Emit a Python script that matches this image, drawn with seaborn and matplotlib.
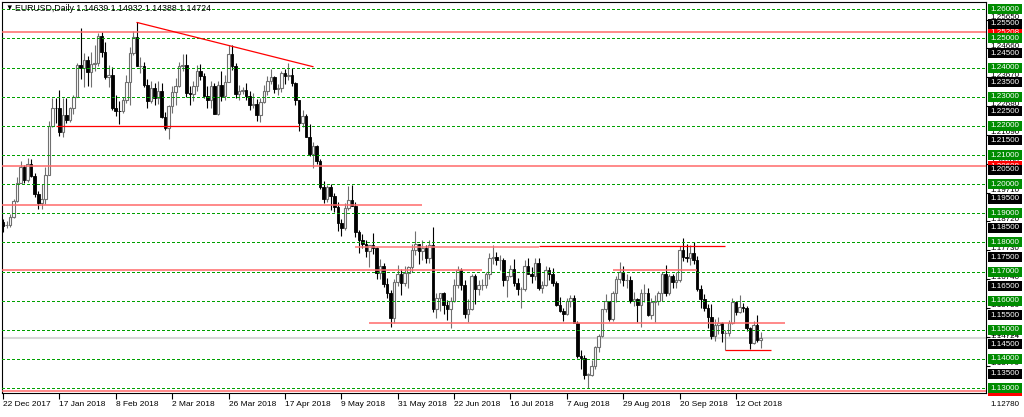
import numpy as np
import pandas as pd
import matplotlib
matplotlib.use("Agg")
import matplotlib.pyplot as plt
import matplotlib.transforms as mtransforms
from matplotlib.patches import Rectangle
import seaborn as sns

# EURUSD daily bars, 22 Dec 2017 .. 23 Oct 2018 (no bar on 25 Dec and 1 Jan)
first_day = "2017-12-22"
last_day = "2018-10-23"
no_bar_days = ["2017-12-25", "2018-01-01"]

opens = [
    1.1870, 1.1860, 1.1860, 1.1888, 1.1942,
    1.2005, 1.2058, 1.2015, 1.2068, 1.2029, 1.1965, 1.1937, 1.1949, 1.2032, 1.2198, 1.2263,
    1.2262, 1.2180, 1.2237, 1.2221, 1.2260, 1.2300, 1.2408, 1.2397, 1.2425, 1.2385, 1.2412,
    1.2415, 1.2507, 1.2455, 1.2367, 1.2374, 1.2263, 1.2252, 1.2250, 1.2290, 1.2350, 1.2450,
    1.2505, 1.2406, 1.2407, 1.2339, 1.2286, 1.2330, 1.2295, 1.2318, 1.2230,
    1.2193, 1.2267, 1.2316, 1.2336, 1.2404, 1.2409, 1.2312, 1.2309, 1.2336, 1.2390, 1.2370,
    1.2304, 1.2288, 1.2336, 1.2241, 1.2340, 1.2301, 1.2352, 1.2446, 1.2405, 1.2311, 1.2320,
    1.2323, 1.2301, 1.2271, 1.2275, 1.2239, 1.2282, 1.2320, 1.2355, 1.2369, 1.2326, 1.2330,
    1.2380, 1.2370, 1.2375, 1.2346, 1.2288, 1.2210, 1.2235, 1.2163, 1.2105, 1.2130,
    1.2080, 1.1990, 1.1950, 1.1990, 1.1960, 1.1922, 1.1866, 1.1850, 1.1917, 1.1944, 1.1926,
    1.1835, 1.1810, 1.1795, 1.1770, 1.1790, 1.1780, 1.1696, 1.1720, 1.1656, 1.1625, 1.1540, 1.1665,
    1.1690, 1.1660, 1.1695, 1.1715, 1.1775, 1.1795, 1.1770, 1.1780, 1.1745, 1.1790, 1.1570,
    1.1610, 1.1625, 1.1585, 1.1570, 1.1600, 1.1655, 1.1705, 1.1655, 1.1555, 1.1570,
    1.1685, 1.1640, 1.1655, 1.1655, 1.1690, 1.1745, 1.1750, 1.1740, 1.1740, 1.1670, 1.1685,
    1.1710, 1.1660, 1.1640, 1.1640, 1.1720, 1.1690, 1.1685, 1.1730, 1.1645, 1.1655, 1.1705,
    1.1690, 1.1660, 1.1585, 1.1565, 1.1555, 1.1600, 1.1610, 1.1525, 1.1410, 1.1405, 1.1345,
    1.1345, 1.1375, 1.1440, 1.1480, 1.1570, 1.1598, 1.1538, 1.1625, 1.1675, 1.1700, 1.1670, 1.1670,
    1.1600, 1.1605, 1.1585, 1.1625, 1.1625, 1.1550, 1.1595, 1.1600, 1.1625, 1.1690,
    1.1625, 1.1685, 1.1665, 1.1670, 1.1775, 1.1750, 1.1745, 1.1765, 1.1740, 1.1640,
    1.1605, 1.1575, 1.1545, 1.1478, 1.1515, 1.1524, 1.1490, 1.1490, 1.1525, 1.1595,
    1.1560, 1.1580, 1.1575, 1.1505, 1.1455, 1.1515, 1.14639,
]
highs = [
    1.1879, 1.1875, 1.1897, 1.1950, 1.2023,
    1.2081, 1.2065, 1.2089, 1.2088, 1.2038, 1.1978, 1.2000, 1.2058, 1.2218, 1.2297, 1.2296,
    1.2323, 1.2295, 1.2297, 1.2266, 1.2307, 1.2415, 1.2537, 1.2450, 1.2440, 1.2455, 1.2478,
    1.2519, 1.2523, 1.2488, 1.2408, 1.2402, 1.2307, 1.2286, 1.2300, 1.2373, 1.2472, 1.2524,
    1.2555, 1.2437, 1.2420, 1.2361, 1.2353, 1.2347, 1.2355, 1.2347, 1.2246,
    1.2273, 1.2336, 1.2365, 1.2419, 1.2445, 1.2447, 1.2336, 1.2353, 1.2410, 1.2413, 1.2380,
    1.2336, 1.2355, 1.2346, 1.2355, 1.2389, 1.2374, 1.2476, 1.2476, 1.2415, 1.2339, 1.2335,
    1.2346, 1.2319, 1.2314, 1.2293, 1.2296, 1.2339, 1.2370, 1.2396, 1.2372, 1.2345, 1.2390,
    1.2396, 1.2415, 1.2398, 1.2352, 1.2290, 1.2254, 1.2242, 1.2208, 1.2145, 1.2134,
    1.2088, 1.2012, 1.1996, 1.2000, 1.1968, 1.1938, 1.1882, 1.1935, 1.1995, 1.1997, 1.1938,
    1.1843, 1.1830, 1.1810, 1.1792, 1.1834, 1.1784, 1.1744, 1.1729, 1.1679, 1.1638, 1.1675, 1.1724,
    1.1708, 1.1718, 1.1719, 1.1796, 1.1840, 1.1796, 1.1810, 1.1791, 1.1810, 1.1852, 1.1626,
    1.1626, 1.1631, 1.1604, 1.1612, 1.1675, 1.1720, 1.1712, 1.1671, 1.1605, 1.1692,
    1.1690, 1.1672, 1.1674, 1.1699, 1.1765, 1.1791, 1.1768, 1.1758, 1.1748, 1.1686, 1.1723,
    1.1743, 1.1677, 1.1647, 1.1740, 1.1747, 1.1717, 1.1745, 1.1748, 1.1667, 1.1720, 1.1717,
    1.1712, 1.1668, 1.1612, 1.1575, 1.1610, 1.1620, 1.1620, 1.1530, 1.1432, 1.1413, 1.1352,
    1.1395, 1.1445, 1.1485, 1.1573, 1.1623, 1.1600, 1.1635, 1.1686, 1.1733, 1.1718, 1.1690, 1.1685,
    1.1630, 1.1610, 1.1640, 1.1659, 1.1645, 1.1608, 1.1619, 1.1633, 1.1700, 1.1721,
    1.1692, 1.1693, 1.1700, 1.1788, 1.1815, 1.1795, 1.1791, 1.1800, 1.1752, 1.1655,
    1.1622, 1.1590, 1.1590, 1.1538, 1.1545, 1.1527, 1.1500, 1.1535, 1.1610, 1.1600,
    1.1621, 1.1593, 1.1582, 1.1510, 1.1530, 1.1550, 1.14932,
]
lows = [
    1.1836, 1.1848, 1.1853, 1.1883, 1.1938,
    1.2004, 1.2004, 1.2006, 1.2023, 1.1955, 1.1916, 1.1915, 1.1933, 1.2030, 1.2197, 1.2210,
    1.2165, 1.2163, 1.2210, 1.2215, 1.2242, 1.2298, 1.2360, 1.2335, 1.2336, 1.2335, 1.2390,
    1.2405, 1.2435, 1.2360, 1.2335, 1.2253, 1.2235, 1.2206, 1.2244, 1.2277, 1.2273, 1.2443,
    1.2405, 1.2380, 1.2334, 1.2260, 1.2277, 1.2271, 1.2276, 1.2226, 1.2186,
    1.2155, 1.2244, 1.2272, 1.2333, 1.2388, 1.2300, 1.2273, 1.2285, 1.2320, 1.2356, 1.2296,
    1.2260, 1.2260, 1.2240, 1.2239, 1.2284, 1.2290, 1.2350, 1.2393, 1.2297, 1.2290, 1.2310,
    1.2290, 1.2254, 1.2261, 1.2216, 1.2214, 1.2280, 1.2306, 1.2345, 1.2312, 1.2305, 1.2317,
    1.2345, 1.2356, 1.2337, 1.2273, 1.2184, 1.2196, 1.2162, 1.2098, 1.2055, 1.2069,
    1.1983, 1.1937, 1.1938, 1.1910, 1.1905, 1.1838, 1.1822, 1.1844, 1.1910, 1.1925, 1.1820,
    1.1763, 1.1780, 1.1750, 1.1717, 1.1762, 1.1675, 1.1676, 1.1646, 1.1608, 1.1510, 1.1525, 1.1650,
    1.1620, 1.1649, 1.1643, 1.1699, 1.1757, 1.1727, 1.1740, 1.1730, 1.1728, 1.1562, 1.1542,
    1.1565, 1.1556, 1.1533, 1.1508, 1.1595, 1.1645, 1.1636, 1.1541, 1.1527, 1.1568,
    1.1590, 1.1620, 1.1637, 1.1644, 1.1674, 1.1727, 1.1721, 1.1704, 1.1652, 1.1614, 1.1680,
    1.1649, 1.1620, 1.1575, 1.1635, 1.1690, 1.1660, 1.1671, 1.1638, 1.1626, 1.1650, 1.1670,
    1.1650, 1.1583, 1.1560, 1.1529, 1.1552, 1.1580, 1.1525, 1.1405, 1.1365, 1.1330, 1.1301,
    1.1340, 1.1366, 1.1425, 1.1477, 1.1560, 1.1530, 1.1530, 1.1596, 1.1661, 1.1650, 1.1645, 1.1591,
    1.1583, 1.1528, 1.1510, 1.1597, 1.1548, 1.1538, 1.1527, 1.1586, 1.1600, 1.1617,
    1.1620, 1.1644, 1.1644, 1.1664, 1.1735, 1.1733, 1.1722, 1.1725, 1.1635, 1.1575,
    1.1565, 1.1505, 1.1470, 1.1463, 1.1486, 1.1460, 1.1432, 1.1480, 1.1520, 1.1550,
    1.1557, 1.1560, 1.1495, 1.1433, 1.1450, 1.1460, 1.14388,
]
closes = [
    1.1858, 1.1860, 1.1888, 1.1942, 1.2005,
    1.2058, 1.2015, 1.2068, 1.2029, 1.1965, 1.1937, 1.1949, 1.2032, 1.2198, 1.2263, 1.2262,
    1.2180, 1.2237, 1.2221, 1.2260, 1.2300, 1.2408, 1.2397, 1.2425, 1.2385, 1.2412, 1.2415,
    1.2507, 1.2455, 1.2367, 1.2374, 1.2263, 1.2252, 1.2250, 1.2290, 1.2350, 1.2450, 1.2505,
    1.2406, 1.2407, 1.2339, 1.2286, 1.2330, 1.2295, 1.2318, 1.2230, 1.2193,
    1.2267, 1.2316, 1.2336, 1.2404, 1.2409, 1.2312, 1.2309, 1.2336, 1.2390, 1.2370, 1.2304,
    1.2288, 1.2336, 1.2241, 1.2340, 1.2301, 1.2352, 1.2446, 1.2405, 1.2311, 1.2320, 1.2323,
    1.2301, 1.2271, 1.2275, 1.2239, 1.2282, 1.2320, 1.2355, 1.2369, 1.2326, 1.2330, 1.2380,
    1.2370, 1.2375, 1.2346, 1.2288, 1.2210, 1.2235, 1.2163, 1.2105, 1.2130, 1.2080,
    1.1990, 1.1950, 1.1990, 1.1960, 1.1922, 1.1866, 1.1850, 1.1917, 1.1944, 1.1926, 1.1835,
    1.1810, 1.1795, 1.1770, 1.1790, 1.1780, 1.1696, 1.1720, 1.1656, 1.1625, 1.1540, 1.1665, 1.1690,
    1.1660, 1.1695, 1.1715, 1.1775, 1.1795, 1.1770, 1.1780, 1.1745, 1.1790, 1.1570, 1.1610,
    1.1625, 1.1585, 1.1570, 1.1600, 1.1655, 1.1705, 1.1655, 1.1555, 1.1570, 1.1685,
    1.1640, 1.1655, 1.1655, 1.1690, 1.1745, 1.1750, 1.1740, 1.1740, 1.1670, 1.1685, 1.1710,
    1.1660, 1.1640, 1.1640, 1.1720, 1.1690, 1.1685, 1.1730, 1.1645, 1.1655, 1.1705, 1.1690,
    1.1660, 1.1585, 1.1565, 1.1555, 1.1600, 1.1610, 1.1525, 1.1410, 1.1405, 1.1345, 1.1347,
    1.1375, 1.1440, 1.1480, 1.1570, 1.1598, 1.1538, 1.1625, 1.1675, 1.1700, 1.1670, 1.1670, 1.1600,
    1.1605, 1.1585, 1.1625, 1.1625, 1.1550, 1.1595, 1.1600, 1.1625, 1.1690, 1.1625,
    1.1685, 1.1665, 1.1670, 1.1775, 1.1750, 1.1745, 1.1765, 1.1740, 1.1640, 1.1605,
    1.1575, 1.1545, 1.1478, 1.1515, 1.1524, 1.1490, 1.1490, 1.1525, 1.1595, 1.1560,
    1.1580, 1.1575, 1.1505, 1.1455, 1.1515, 1.1465, 1.14724,
]

# price scale
round_levels = [1.26, 1.25, 1.24, 1.23, 1.22, 1.21, 1.20, 1.19, 1.18, 1.17, 1.16, 1.15, 1.14, 1.13]
half_levels = [1.255, 1.245, 1.235, 1.225, 1.215, 1.205, 1.195, 1.185, 1.175, 1.165, 1.155, 1.145, 1.135]
scale_levels = [1.2565, 1.2466, 1.2367, 1.2268, 1.2169, 1.2070, 1.1971, 1.1872,
                1.1773, 1.1674, 1.1575, 1.1476, 1.1377]
scale_bottom = 1.1278
red_levels = [1.25208, 1.20608, 1.12900]

# drawn support / resistance segments
seg_prices = [1.1928, 1.2200, 1.1705, 1.1786, 1.1789, 1.1707, 1.1523, 1.1430]
seg_from = ["2017-12-01", "2018-01-16", "2017-12-01", "2018-05-15",
            "2018-07-26", "2018-08-24", "2018-05-21", "2018-10-09"]
seg_to = ["2018-06-11", "2018-04-23", "2018-07-04", "2018-07-26",
          "2018-10-09", "2018-09-27", "2018-11-01", "2018-10-26"]
trend_dates = ["2018-02-16", "2018-04-27"]
trend_prices = [1.2555, 1.2403]

tick_dates = ["2017-12-22", "2018-01-17", "2018-02-08", "2018-03-02", "2018-03-26",
              "2018-04-17", "2018-05-09", "2018-05-31", "2018-06-22", "2018-07-16",
              "2018-08-07", "2018-08-29", "2018-09-20", "2018-10-12"]


def bar_pos(day):
    return np.busday_count(first_day, day, holidays=no_bar_days)


dates = pd.bdate_range(first_day, last_day)
dates = dates[~dates.isin(pd.to_datetime(no_bar_days))]
df = pd.DataFrame({"open": opens, "high": highs, "low": lows, "close": closes}, index=dates)
df["pos"] = [bar_pos(d.strftime("%Y-%m-%d")) for d in df.index]

sns.set_theme(style="white")
plt.rcParams["font.family"] = ["Liberation Sans", "DejaVu Sans"]

W, H = 1024, 417
fig = plt.figure(figsize=(W / 100, H / 100), dpi=100)
ax = fig.add_axes([2 / W, 24 / H, 984 / W, 391 / H])

# candles
bull = df[df["close"] >= df["open"]]
bear = df[df["close"] < df["open"]]
ax.vlines(bull["pos"], bull["low"], bull["high"], color="#707070", lw=0.8, zorder=2)
ax.vlines(bear["pos"], bear["low"], bear["high"], color="black", lw=0.8, zorder=2)
ax.bar(bull["pos"], np.maximum(bull["close"] - bull["open"], 0.00005), bottom=bull["open"],
       width=0.72, color="white", edgecolor="#707070", lw=0.8, zorder=3)
ax.bar(bear["pos"], bear["open"] - bear["close"], bottom=bear["close"],
       width=0.72, color="black", edgecolor="black", lw=0.6, zorder=3)

# levels
ax.axhline(closes[-1], color="#d6d6d6", lw=1.5, zorder=1)
for lvl in round_levels:
    ax.axhline(lvl, color="#00a000", lw=0.72, ls=(0, (2.8, 2.8)), antialiased=False, zorder=4)
for lvl in red_levels:
    ax.axhline(lvl, color="#ff6a6a", lw=1.1, zorder=5)
seg_colors = ["#ff6a6a", "red", "#ff6a6a", "#ff7878", "red", "#ff6a6a", "#ff6a6a", "red"]
seg_widths = [1.1, 0.9, 1.1, 1.1, 0.9, 1.1, 1.1, 0.9]
for p, a, b, c, w in zip(seg_prices, seg_from, seg_to, seg_colors, seg_widths):
    ax.hlines(p, bar_pos(a), bar_pos(b), colors=c, lw=w, zorder=5)
sns.lineplot(x=[bar_pos(d) for d in trend_dates], y=trend_prices, ax=ax,
             color="red", lw=0.9, zorder=5)

ax.set_xlim((2 - 3) / 3.524, (986 - 3) / 3.524)
ax.set_ylim(1.12833, 1.26251)

for s in ax.spines.values():
    s.set_color("black")
    s.set_linewidth(0.8)

ax.set_xticks([bar_pos(d) for d in tick_dates])
ax.set_xticklabels([pd.Timestamp(d).strftime("%-d %b %Y") for d in tick_dates],
                   ha="left", fontsize=6, color="black")
ax.tick_params(axis="x", bottom=True, length=4, width=0.8, pad=2, direction="out", color="black")
ax.yaxis.tick_right()
ax.set_yticks(scale_levels)
ax.set_yticklabels([])
ax.tick_params(axis="y", right=True, left=False, length=3, width=0.8, direction="out", color="black")
ax.grid(False)

# right price scale labels
tr = mtransforms.blended_transform_factory(fig.transFigure, ax.transData)
box_h = 10 / 2914
for lvl in scale_levels:
    fig.text(990 / W, lvl + 0.0007, f"{lvl:.5f}", transform=tr, fontsize=5.8,
             color="black", ha="left", va="center", zorder=1)
# the lowest scale value sits under the chart, below its own level
fig.text(990 / W, 1 - 405 / H, f"{scale_bottom:.5f}", fontsize=5.8,
         color="black", ha="left", va="center", zorder=1)
fig.text(990 / W, closes[-1] + 0.0004, f"{closes[-1]:.5f}", transform=tr, fontsize=5.8,
         color="black", ha="left", va="center", zorder=1.5)


def price_box(lvl, face, z):
    fig.add_artist(Rectangle((988 / W, lvl - box_h / 2), 34 / W, box_h, transform=tr,
                             facecolor=face, edgecolor="none", zorder=z))
    fig.text(1005 / W, lvl, f"{lvl:.5f}", transform=tr, fontsize=5.8, color="white",
             ha="center", va="center", zorder=z + 0.1)


for lvl in red_levels:
    price_box(lvl, "#ff0000", 2)
for lvl in round_levels:
    price_box(lvl, "#008c00", 3)
for lvl in half_levels:
    price_box(lvl, "black", 3)

# header
fig.text(5 / W, 1 - 8.5 / H, "▼", fontsize=5.5, color="black", va="center", ha="left")
fig.text(15 / W, 1 - 8.5 / H,
         f"EURUSD,Daily {opens[-1]:.5f} {highs[-1]:.5f} {lows[-1]:.5f} {closes[-1]:.5f}",
         fontsize=6.3, color="black", va="center", ha="left")

fig.savefig("out.png", dpi=100)
